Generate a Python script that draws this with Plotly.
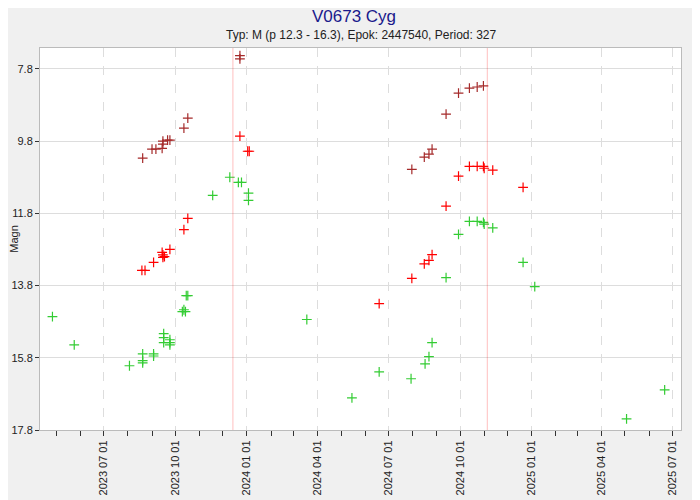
import plotly.graph_objects as go
from datetime import datetime, timedelta

# Brown points (visual-band, maxima branch)
brown_dates = ["2023-12-23","2023-12-23","2023-10-17","2023-10-12","2023-09-24","2023-09-21","2023-09-15","2023-09-15","2023-09-14","2023-09-01","2023-09-06","2023-08-20",
               "2024-09-29","2024-10-13","2024-10-23","2024-10-31","2024-09-13","2024-08-26","2024-08-22","2024-08-16","2024-07-31"]
brown_mags = [7.43,7.52,9.16,9.44,9.77,9.77,9.8,9.88,10.0,10.02,10.02,10.27,
              8.47,8.33,8.3,8.27,9.05,10.02,10.16,10.24,10.58]

red_dates = ["2023-12-23","2024-01-02","2024-01-04","2023-10-17","2023-10-12","2023-09-24","2023-09-14","2023-09-15","2023-09-17","2023-09-15","2023-09-03","2023-08-19","2023-08-23",
             "2024-10-13","2024-10-23","2024-10-31","2024-11-01","2024-11-12","2024-09-29","2024-12-21","2024-09-13","2024-08-26","2024-08-22","2024-08-16","2024-07-31","2024-06-19"]
red_mags = [9.66,10.08,10.08,11.94,12.25,12.8,12.88,12.95,13.0,13.02,13.16,13.38,13.38,
            10.5,10.5,10.5,10.55,10.6,10.77,11.08,11.6,12.94,13.1,13.2,13.6,14.3]

green_dates = ["2023-12-10","2023-12-21","2023-12-25","2023-11-18","2024-01-03","2024-01-03",
               "2024-10-13","2024-10-23","2024-10-31","2024-11-01","2024-11-12","2024-09-29","2024-12-21","2024-09-13","2025-01-05",
               "2023-04-26","2023-05-24","2023-08-03","2023-08-20","2023-08-20","2023-08-20","2023-09-03","2023-09-03","2023-09-16","2023-09-16","2023-09-16",
               "2023-09-24","2023-09-24","2023-09-24","2023-10-10","2023-10-14","2023-10-12","2023-10-15","2023-10-17","2024-03-18","2024-05-15","2024-06-19",
               "2024-07-30","2024-08-17","2024-08-22","2024-08-26","2025-05-03","2025-06-21"]
green_mags = [10.8,10.94,10.94,11.3,11.24,11.44,
              12.02,12.02,12.05,12.1,12.2,12.38,13.16,13.58,13.83,
              14.66,15.44,16.02,15.69,15.88,15.94,15.69,15.75,15.13,15.24,15.38,
              15.3,15.38,15.44,14.52,14.52,14.47,14.08,14.08,14.74,16.91,16.19,
              16.38,15.97,15.77,15.38,17.49,16.69]

epoch_jd = 2447540
period = 327
x_start, x_end = "2023-04-10", "2025-07-12"

def jd_to_date(jd):
    return datetime(2000, 1, 1, 12) + timedelta(days=jd - 2451545.0)

fig = go.Figure()
for d, m, c in [(green_dates, green_mags, "#33cc33"), (red_dates, red_mags, "#ff0000"), (brown_dates, brown_mags, "#a52a2a")]:
    fig.add_trace(go.Scatter(x=d, y=m, mode="markers",
                             marker=dict(symbol="cross-thin", size=7, line=dict(width=1.2, color=c), color=c),
                             hoverinfo="x+y", showlegend=False))

s = datetime.fromisoformat(x_start); e = datetime.fromisoformat(x_end)
n = int((s - jd_to_date(epoch_jd)).days / period)
while True:
    dt = jd_to_date(epoch_jd + n * period)
    if dt > e: break
    if dt >= s:
        fig.add_vline(x=dt.strftime("%Y-%m-%d"), line=dict(color="rgba(255,0,0,0.25)", width=1))
    n += 1

fig.update_layout(
    width=692, height=492, paper_bgcolor="#f0f0f0", plot_bgcolor="white",
    margin=dict(l=32, r=19, t=40, b=70, autoexpand=False),
    font=dict(family="Liberation Sans, Arial", size=11, color="#222"),
    title=dict(text="V0673 Cyg", x=0.5, xanchor="center", y=0.983, yanchor="middle",
               font=dict(size=17, color="#1a1a8c")),
    annotations=[dict(text="Typ: M (p 12.3 - 16.3), Epok: 2447540, Period: 327", x=0.5, y=1.0, xref="paper", yref="paper",
                      yanchor="bottom", yshift=4, showarrow=False, font=dict(size=12, color="#222"))],
)
fig.update_xaxes(range=[x_start, x_end], tickformat="%Y %m %d", dtick="M3", tick0="2023-01-01",
                 tickangle=-90, showgrid=True, gridcolor="#dddddd", griddash="dash", automargin=False,
                 ticks="outside", ticklen=5, tickcolor="#333",
                 minor=dict(dtick="M1", ticks="outside", ticklen=5, tickcolor="#333", showgrid=False),
                 showline=True, linecolor="#bbbbbb", mirror=True, zeroline=False)
fig.update_yaxes(range=[17.8, 7.22], tick0=7.8, dtick=2, title=dict(text="Magn", standoff=2, font=dict(size=11)),
                 showgrid=True, gridcolor="#dddddd", ticks="outside", ticklen=4, tickcolor="#333", automargin=False,
                 showline=True, linecolor="#bbbbbb", mirror=True, zeroline=False)
fig.write_html("out.html")
